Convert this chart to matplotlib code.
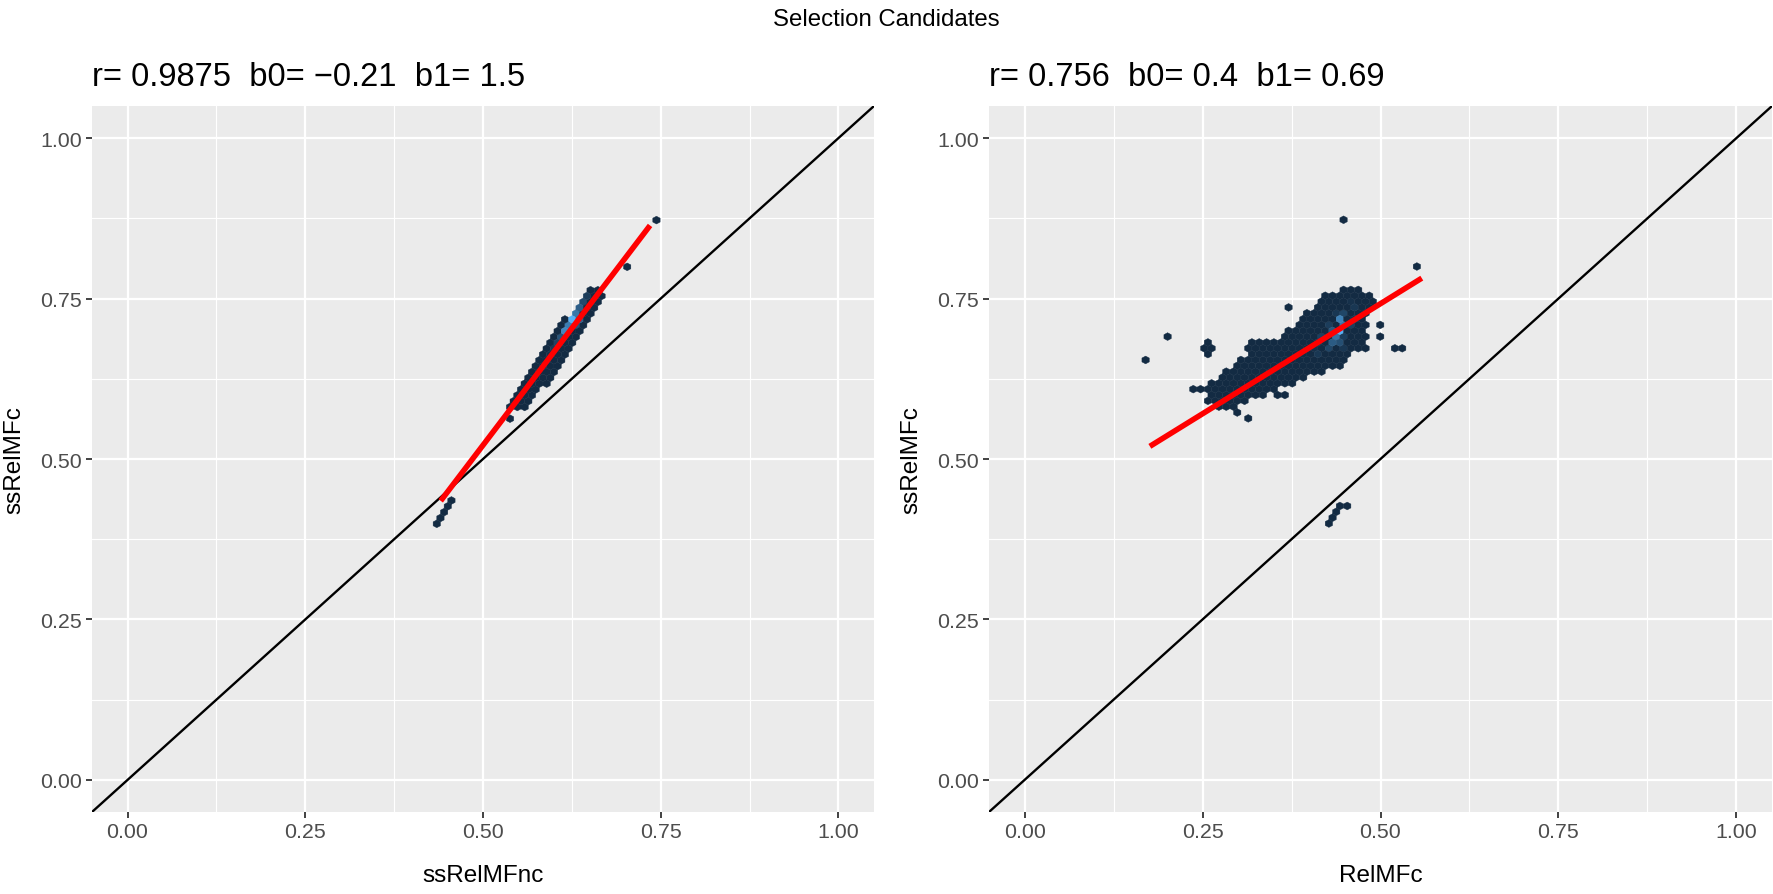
import numpy as np
import matplotlib.pyplot as plt
from matplotlib.colors import LinearSegmentedColormap

plt.rcParams['font.family'] = ['Liberation Sans', 'DejaVu Sans']

# ---------------- data ----------------
tick_vals = [0.0, 0.25, 0.5, 0.75, 1.0]
tick_labels = ['0.00', '0.25', '0.50', '0.75', '1.00']

# left panel: ssRelMFnc vs ssRelMFc, dense band as hex rows (y, x from, x to)
left_rows_y = [0.5815, 0.5906, 0.5997, 0.6088, 0.6179, 0.6270, 0.6361, 0.6452, 0.6543, 0.6634,
               0.6725, 0.6816, 0.6907, 0.6998, 0.7089, 0.7180, 0.7271, 0.7362, 0.7453, 0.7544, 0.7635]
left_rows_x0 = [0.537, 0.541, 0.547, 0.552, 0.558, 0.564, 0.570, 0.575, 0.579, 0.583,
                0.587, 0.592, 0.600, 0.606, 0.612, 0.618, 0.626, 0.632, 0.638, 0.643, 0.654]
left_rows_x1 = [0.556, 0.563, 0.571, 0.578, 0.585, 0.592, 0.600, 0.604, 0.608, 0.612,
                0.617, 0.621, 0.626, 0.631, 0.637, 0.642, 0.649, 0.656, 0.662, 0.666, 0.666]
left_single_x = [0.7395, 0.704, 0.660, 0.540, 0.6036, 0.435, 0.4405, 0.445, 0.451, 0.455]
left_single_y = [0.875, 0.797, 0.738, 0.564, 0.694, 0.399, 0.408, 0.417, 0.425, 0.434]
left_hot_x = [0.629, 0.624, 0.634, 0.619, 0.640, 0.615, 0.634, 0.624, 0.645, 0.610, 0.650, 0.604,
              0.599, 0.629, 0.619]
left_hot_y = [0.718, 0.709, 0.727, 0.700, 0.736, 0.691, 0.718, 0.718, 0.745, 0.682, 0.754, 0.672,
              0.664, 0.709, 0.700]
left_hot_n = [260, 240, 220, 180, 150, 120, 160, 130, 90, 70, 50, 40, 20, 120, 90]
left_fit = {'b0': -0.207, 'b1': 1.457, 'x0': 0.4405, 'x1': 0.735}
left_title = 'r= 0.9875  b0= \u22120.21  b1= 1.5'

# right panel: RelMFc vs ssRelMFc
right_rows_y = [0.7635, 0.7544, 0.7453, 0.7362, 0.7271, 0.7180, 0.7089, 0.6998, 0.6907, 0.6816,
                0.6725, 0.6634, 0.6543, 0.6452, 0.6361, 0.6270, 0.6179, 0.6179, 0.6088, 0.5997,
                0.5906, 0.5815]
right_rows_x0 = [0.4454, 0.4243, 0.4126, 0.4080, 0.3960, 0.3868, 0.3821, 0.3750, 0.3680, 0.3212,
                 0.3188, 0.3165, 0.3071, 0.3024, 0.2883, 0.2790, 0.2672, 0.3587, 0.2414, 0.2602,
                 0.2625, 0.2743]
right_rows_x1 = [0.4665, 0.4852, 0.4876, 0.4876, 0.4810, 0.4782, 0.4782, 0.4782, 0.4759, 0.4740,
                 0.4665, 0.4570, 0.4454, 0.4384, 0.4196, 0.3868, 0.3540, 0.3727, 0.3540, 0.3259,
                 0.3094, 0.2930]
right_single_x = [0.450, 0.5556, 0.170, 0.2007, 0.2602, 0.2532, 0.2649, 0.2602, 0.370, 0.4946,
                  0.4993, 0.4806, 0.524, 0.531, 0.3399, 0.3587, 0.3704, 0.2956, 0.310,
                  0.424, 0.429, 0.435, 0.444, 0.456]
right_single_y = [0.875, 0.7975, 0.6506, 0.685, 0.6859, 0.677, 0.677, 0.6677, 0.737, 0.711,
                  0.685, 0.6677, 0.676, 0.667, 0.5992, 0.5992, 0.5992, 0.5716, 0.564,
                  0.399, 0.408, 0.417, 0.430, 0.430]
right_hot_x = [0.438, 0.443, 0.433, 0.448, 0.428, 0.428, 0.448, 0.438, 0.438, 0.453, 0.423, 0.418,
               0.458, 0.423, 0.453, 0.413, 0.463, 0.443, 0.433, 0.408, 0.468, 0.403, 0.458]
right_hot_y = [0.700, 0.709, 0.691, 0.718, 0.682, 0.700, 0.700, 0.718, 0.682, 0.727, 0.673, 0.691,
               0.709, 0.709, 0.691, 0.664, 0.736, 0.673, 0.727, 0.682, 0.718, 0.673, 0.745]
right_hot_n = [300, 250, 240, 170, 160, 150, 150, 120, 120, 90, 90, 70, 70, 60, 60, 40, 40, 40, 40,
               25, 25, 20, 20]
right_fit = {'b0': 0.399, 'b1': 0.686, 'x0': 0.176, 'x1': 0.558}
right_title = 'r= 0.756  b0= 0.4  b1= 0.69'

# ---------------- drawing ----------------
SX, SY = 0.0103, 0.0182   # hex width, twice the row step
gg_cmap = LinearSegmentedColormap.from_list('gg', ['#132B43', '#56B1F7'])


def hex_cells(rows_y, rows_x0, rows_x1, xmin, ymin):
    xs, ys = [], []
    for y, a, b in zip(rows_y, rows_x0, rows_x1):
        k = round((y - ymin) / (SY / 2))
        off = SX / 2 if k % 2 else 0.0
        for i in range(round((a - xmin - off) / SX), round((b - xmin - off) / SX) + 1):
            xs.append(xmin + off + i * SX)
            ys.append(ymin + k * SY / 2)
    return xs, ys


def panel(ax, rows, singles, hot, fit, xmin, ymin, xlabel, title, fx):
    cx, cy = hex_cells(*rows, xmin, ymin)
    x = cx + singles[0] + hot[0]
    y = cy + singles[1] + hot[1]
    c = [1] * (len(cx) + len(singles[0])) + hot[2]
    nx = int(np.ceil((max(x) - xmin) / SX)) + 2
    ny = int(np.ceil((max(y) - ymin) / SY)) + 2
    ax.hexbin(x, y, C=c, reduce_C_function=np.sum, gridsize=(nx, ny),
              extent=(xmin, xmin + nx * SX, ymin, ymin + ny * SY),
              cmap=gg_cmap, linewidths=0.3, edgecolors='face', zorder=2)
    ax.plot([-0.05, 1.05], [-0.05, 1.05], color='black', lw=1.7, zorder=3)
    xs = np.array([fit['x0'], fit['x1']])
    ax.plot(xs, fit['b0'] + fit['b1'] * xs, color='#FF0000', lw=4.0,
            solid_capstyle='butt', zorder=4)

    ax.set_facecolor('#EBEBEB')
    ax.set_xlim(-0.05, 1.05)
    ax.set_ylim(-0.05, 1.05)
    ax.set_xticks(tick_vals)
    ax.set_xticklabels(tick_labels)
    ax.set_yticks(tick_vals)
    ax.set_yticklabels(tick_labels)
    minors = [0.125, 0.375, 0.625, 0.875]
    ax.set_xticks(minors, minor=True)
    ax.set_yticks(minors, minor=True)
    ax.grid(which='major', color='white', lw=1.6, zorder=0)
    ax.grid(which='minor', color='white', lw=0.8, zorder=0)
    ax.set_axisbelow(True)
    ax.tick_params(which='major', length=4, width=1.3, color='#333333',
                   labelsize=15.4, labelcolor='#4D4D4D', pad=3)
    ax.tick_params(which='minor', length=0)
    for s in ax.spines.values():
        s.set_visible(False)

    pos = ax.get_position()
    fig.text(pos.x0 + pos.width / 2, 1 - 876 / 895, xlabel, ha='center', va='center', fontsize=17.5)
    fig.text(fx, pos.y0 + pos.height / 2, 'ssRelMFc', ha='center', va='center',
             rotation=90, fontsize=17.5)
    fig.text(pos.x0, 1 - 77 / 895, title, ha='left', va='center', fontsize=23.5)


W, H = 1773, 895
fig = plt.figure(figsize=(W / 100, H / 100), dpi=100)
ax1 = fig.add_axes([92 / W, 1 - 813 / H, 782 / W, 706 / H])
ax2 = fig.add_axes([989 / W, 1 - 813 / H, 783 / W, 706 / H])

panel(ax1, (left_rows_y, left_rows_x0, left_rows_x1), (left_single_x, left_single_y),
      (left_hot_x, left_hot_y, left_hot_n), left_fit, 0.435, 0.399, 'ssRelMFnc', left_title, 14 / W)
panel(ax2, (right_rows_y, right_rows_x0, right_rows_x1), (right_single_x, right_single_y),
      (right_hot_x, right_hot_y, right_hot_n), right_fit, 0.170, 0.3995, 'RelMFc', right_title, 911 / W)

fig.text(0.5, 1 - 20 / H, 'Selection Candidates', ha='center', va='center', fontsize=17.3)

fig.savefig('out.png', dpi=100)
